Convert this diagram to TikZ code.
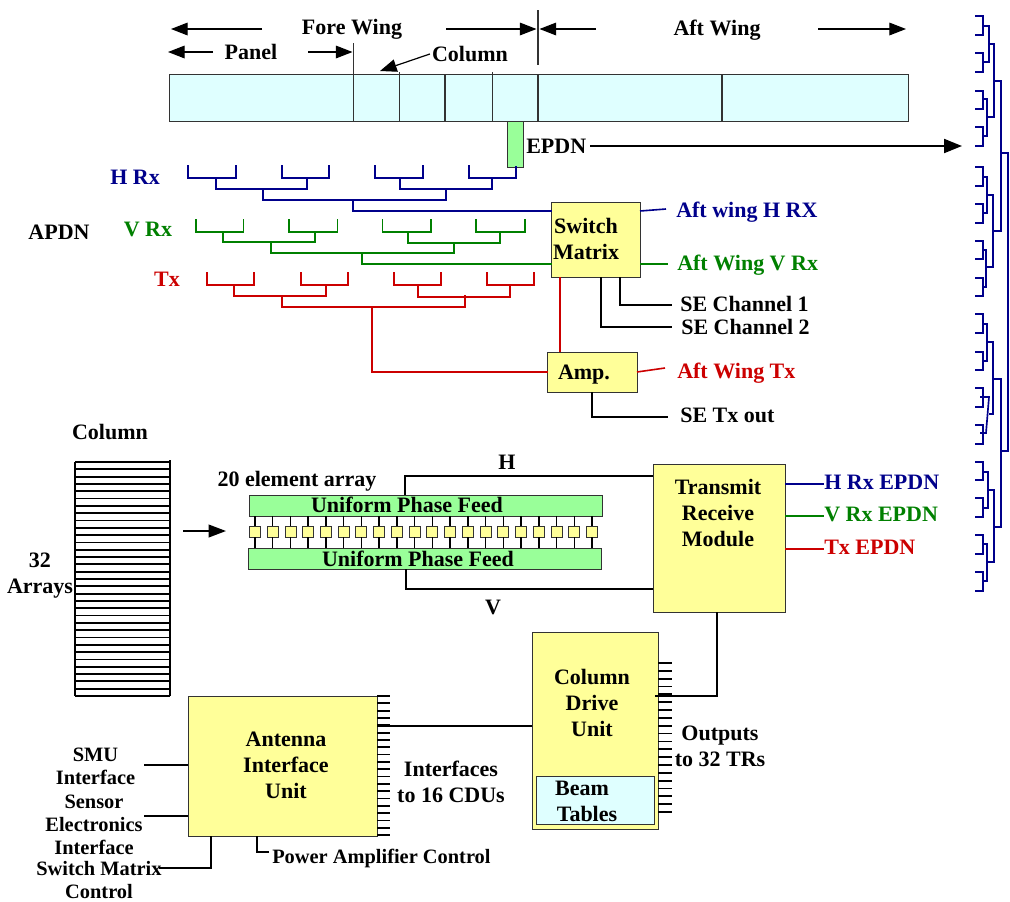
\documentclass[tikz,border=0pt]{standalone}
\usepackage{fontspec}
\setmainfont{Liberation Serif}
\usetikzlibrary{arrows.meta,calc}
\definecolor{cy}{HTML}{DFFFFF}
\definecolor{yl}{HTML}{FFFF99}
\definecolor{gn}{HTML}{99FF99}
\definecolor{nv}{HTML}{00008B}
\definecolor{dg}{HTML}{008000}
\definecolor{rd}{HTML}{CC0000}
\definecolor{edgec}{HTML}{333333}
\newcommand{\pbox}[7][]{% style, name, x1,y1,x2,y2, fill
  \node[boxn,fill=#7,minimum width={(#5-#3)*0.75pt},minimum height={(#6-#4)*0.75pt},#1] (#2) at ({(#3+#5)/2},{(#4+#6)/2}) {};}
\newcommand{\brk}[5]{% colour, xl, xr, ytop, ybar
  \draw[tree,#1] (#2,#4) |- (#3,#5) -- (#3,#4);}
\tikzset{
  x=0.75pt,y=-0.75pt,
  boxn/.style={draw=edgec,line width=0.7pt,inner sep=0pt,outer sep=0pt},
  lab/.style={inner sep=0pt,font=\bfseries\fontsize{16.5}{19.5}\selectfont,text height=11pt,text depth=3.5pt,yshift=-1.5pt},
  mlab/.style={inner sep=0pt,font=\bfseries\fontsize{16.5}{19.5}\selectfont,align=center},
  slab/.style={inner sep=0pt,font=\bfseries\fontsize{15.3}{17.25}\selectfont,align=center},
  tree/.style={line width=1.2pt,line cap=rect},
  dend/.style={line width=1.25pt,color=nv},
  blk/.style={line width=1.2pt,color=black},
  tick/.style={line width=1.35pt,color=black},
  arr/.style={line width=0.9pt,-{Triangle[length=12.5pt,width=9.5pt]}},
}
\begin{document}
\begin{tikzpicture}
\useasboundingbox (0,0) rectangle (1010,901);
% wing bar
\pbox{bar}{169}{74}{908}{121}{cy}
\foreach \xx/\yy in {399.5/72,445/74,492.5/72,722/74}{\draw[line width=0.8pt,edgec] (\xx,\yy) -- (\xx,121);}
\coordinate (t1) at (353.5,43);
\coordinate (t2) at (538,10);
\coordinate (t2b) at (538,65);
\draw[line width=0.8pt,edgec] (t1) -- (t1 |- bar.south);
\draw[line width=0.8pt,edgec] (t2) -- (t2b);
\draw[line width=0.8pt,edgec] (t2 |- bar.north) -- (t2 |- bar.south);
% top labels
\node[lab] (forew) at (352,27) {Fore Wing};
\node[lab] (panel) at (251,52) {Panel};
\node[lab] (colm) at (470,54) {Column};
\node[lab] (aftw) at (717,28) {Aft Wing};
\coordinate (a1) at (262,29); \coordinate (a1e) at (171,29);
\coordinate (a2) at (446,29); \coordinate (a2e) at (536.5,29);
\coordinate (a3) at (213,52); \coordinate (a3e) at (168,52);
\coordinate (a4) at (308,52); \coordinate (a4e) at (352.5,52);
\coordinate (a5) at (596,29); \coordinate (a5e) at (539.5,29);
\coordinate (a6) at (818,29); \coordinate (a6e) at (906,29);
\coordinate (a7e) at (380,71);
\foreach \p/\q in {a1/a1e,a2/a2e,a3/a3e,a4/a4e,a5/a5e,a6/a6e}{\draw[arr] (\p) -- (\q);}
\draw[arr] ($(colm.west)+(-2,-2)$) -- (a7e);
% EPDN
\pbox{epdn}{507}{121}{523}{167}{gn}
\node[lab,anchor=west] (epdnl) at (526,146) {EPDN};
\coordinate (dendin) at (962,146);
\draw[line width=1.5pt,-{Triangle[length=13.5pt,width=10.5pt]}] (dendin -| epdnl.east) ++(4,0) -- (dendin);
% switch and amp
\pbox{sw}{551}{202}{640}{277}{yl}
\node[mlab,anchor=center] (swl) at (586,239) {Switch\\Matrix};
\pbox{amp}{547}{352}{637}{392}{yl}
\node[lab] (ampl) at (584,372) {Amp.};
% H Rx tree
\foreach \a/\b in {188/236,282/329,375/423}{\brk{nv}{\a}{\b}{166}{178}}
\draw[tree,nv] (469,166) |- (516,178) -- ($(epdn.south)+(1,0)$);
\brk{nv}{216}{307}{178}{189}
\brk{nv}{400}{492}{178}{189}
\brk{nv}{263}{446}{189}{200}
\draw[tree,nv] (353,200) |- ($(sw.north west)+(0,9)$);
% V Rx tree
\foreach \a/\b in {196/243.5,289/337.5,382.5/431,476/525}{\brk{dg}{\a}{\b}{220}{232}}
\brk{dg}{223}{315}{232}{242}
\brk{dg}{408}{500}{232}{243}
\brk{dg}{271}{454}{243}{253}
\draw[tree,dg] (362,253) |- ($(sw.north west)+(0,62)$);
% Tx tree
\foreach \a/\b in {207/254,301/348,394/441,487/534}{\brk{rd}{\a}{\b}{273}{285}}
\brk{rd}{234}{326}{285}{296}
\brk{rd}{418}{510}{285}{297}
\brk{rd}{282}{465}{296}{307}
\draw[tree,rd] (372,307) |- (amp.west);
\draw[tree,rd,line cap=butt] (560,277) -- (560,352);
% tree labels
\node[lab,text=nv] (hrx) at (135,177) {H Rx};
\node[lab,text=dg] (vrx) at (148,229) {V Rx};
\node[lab,text=rd] (txl) at (167,279) {Tx};
\node[lab] (apdn) at (59,232) {APDN};
% switch outputs
\node[lab,text=nv,anchor=west] (afth) at (676,210) {Aft wing H RX};
\node[lab,text=dg,anchor=west] (aftv) at (677,263) {Aft Wing V Rx};
\node[lab,anchor=west] (se1) at (680,304) {SE Channel 1};
\node[lab,anchor=west] (se2) at (681,327) {SE Channel 2};
\node[lab,text=rd,anchor=west] (aftt) at (677,371) {Aft Wing Tx};
\node[lab,anchor=west] (setx) at (680,415) {SE Tx out};
\draw[tree,nv,line cap=butt] ($(sw.north east)+(0,9)$) -- ($(afth.west)+(-10,-3)$);
\draw[tree,dg,line cap=butt] ($(sw.north east)+(0,62)$) -- ($(aftv.west)+(-9,-1)$);
\draw[blk] (620,277) |- ($(se1.west)+(-8,-1)$);
\draw[blk] (601,277) |- ($(se2.west)+(-9,-2)$);
\draw[tree,rd,line cap=butt] (amp.east) -- ($(aftt.west)+(-12,-5)$);
\draw[blk] (592,392) |- ($(setx.west)+(-12,0)$);
% stack
\node[lab] (coll) at (110,432) {Column};
\coordinate (stl) at (75,462); \coordinate (str) at (170,460); \coordinate (stb) at (170,696);
\foreach \i in {0,...,32}{\draw[tick] (75,{462+\i*7.3125}) -- (170,{462+\i*7.3125});}
\draw[tick] (stl) -- (75,696);
\draw[tick] (str) -- (stb);
\node[mlab] (arrs) at (40,576) {32\\Arrays};
\coordinate (ma) at (183,531); \coordinate (mb) at (226,531);
\draw[line width=1.3pt,-{Triangle[length=13pt,width=9.5pt]}] (ma) -- (mb);
% array
\node[lab] (el20) at (297,479) {20 element array};
\pbox{ftop}{249}{495}{602}{516}{gn}
\pbox{fbot}{248}{548}{601}{569}{gn}
\node[lab] (ftl) at (407,505) {Uniform Phase Feed};
\node[lab] (fbl) at (418,559) {Uniform Phase Feed};
\foreach \i in {0,...,19}{
  \pgfmathsetmacro{\exl}{255+\i*17.74-5.5}
  \pgfmathsetmacro{\exr}{255+\i*17.74+5.5}
  \pbox{e\i}{\exl}{526}{\exr}{537}{yl}
  \draw[line width=1.1pt] (e\i.north |- ftop.south) -- (e\i.north);
  \draw[line width=1.1pt] (e\i.south) -- (e\i.south |- fbot.north);
}
% TR
\pbox{tr}{653}{464}{785}{612}{yl}
\node[mlab] (trl) at (718,513) {Transmit\\Receive\\Module};
\node[lab] (hl) at (507,462) {H};
\node[lab] (vl) at (493,607) {V};
\draw[blk] (405,495) |- ($(tr.north west)+(0,12)$);
\draw[blk] (406,569) |- ($(tr.north west)+(0,125)$);
\node[lab,text=nv,anchor=west] (hep) at (824,482) {H Rx EPDN};
\node[lab,text=dg,anchor=west] (vep) at (824,514) {V Rx EPDN};
\node[lab,text=rd,anchor=west] (tep) at (824,547) {Tx EPDN};
\draw[tree,nv,line cap=butt] (tr.east |- hep.west) -- (hep.west);
\draw[tree,dg,line cap=butt] (tr.east |- vep.west) -- (vep.west);
\draw[tree,rd,line cap=butt] (tr.east |- tep.west) -- (tep.west);
% CDU
\pbox{cdu}{532}{632}{658}{829}{yl}
\pbox{bt}{536}{776}{654}{824}{cy}
\node[mlab] (cdul) at (592,703) {Column\\Drive\\Unit};
\node[lab] (beam) at (582,788) {Beam};
\node[lab] (tabs) at (587,814) {Tables};
\foreach \i in {0,...,19}{\draw[tick] (658,{663+\i*7.84}) -- (672,{663+\i*7.84});}
\draw[blk,line width=1.5pt] (717,612) |- (655,696);
\node[mlab] (outp) at (720,746) {Outputs\\to 32 TRs};
% AIU
\pbox{aiu}{188}{696}{377}{836}{yl}
\node[mlab] (aiul) at (286,765) {Antenna\\Interface\\Unit};
\foreach \i in {0,...,19}{\draw[tick] (377,{696+\i*7.32}) -- (390,{696+\i*7.32});}
\draw[blk,line width=1.5pt] (377,726) -- ($(cdu.north west)+(0,94)$);
\node[mlab] (ifl) at (451,782) {Interfaces\\to 16 CDUs};
\node[slab] (smu) at (95.5,766.5) {SMU\\Interface};
\node[slab] (sei) at (94,825) {Sensor\\Electronics\\Interface};
\node[slab] (smc) at (99,880.5) {Switch Matrix\\Control};
\coordinate (s1) at (144,765); \coordinate (s2) at (144,816); \coordinate (s3) at (159,868); \coordinate (s4) at (269,852);
\draw[blk] (s1) -- (aiu.west |- s1);
\draw[blk] (s2) -- (aiu.west |- s2);
\draw[blk] (s3) -| (211,836);
\draw[blk] (s4) -| (257,836);
\node[lab,anchor=west,font=\bfseries\fontsize{15.3}{17.25}\selectfont] (pac) at (272,856) {Power Amplifier Control};
% dendrogram
\foreach \ya/\yb/\yc/\yd in {16/35/53/72,91/109/127/146,167/186/204/223,241/259/278/296,314/333/352/370,388/407/425/444,462/480/498/517,535/554/572/591}{
  \draw[dend] (975,\ya) -| (983,\yb) -- (975,\yb);
  \draw[dend] (975,\yc) -| (983,\yd) -- (975,\yd);
}
\draw[dend] (983,26) -| (989,62) -- (983,62);
\draw[dend] (989,44) -| (994,117) -- (989,117);
\draw[dend] (983,99) -| (987,136) -- (983,136);
\draw[dend] (987,117) -- (989,117);
\draw[dend] (994,81) -| (1001,231) -- (993,231);
\draw[dend] (983,177) -| (987,213) -- (983,213);
\draw[dend] (987,195) -| (993,267) -- (987,267);
\draw[dend] (983,250) -| (986,287) -- (983,287);
\draw[dend] (1001,153) -| (1008,451) -- (1001,451);
\draw[dend] (983,324) -| (987,361) -- (983,361);
\draw[dend] (987,342) -| (993,414) -- (989,414);
\draw[dend] (980,397) -- (989,397) -- (986,433) -- (980,433);
\draw[dend] (993,379) -| (1001,527) -- (994,527);
\draw[dend] (983,472) -| (988,508) -- (983,508);
\draw[dend] (988,490) -| (994,562) -- (987,562);
\draw[dend] (983,544) -| (987,581) -- (983,581);
\end{tikzpicture}
\end{document}
